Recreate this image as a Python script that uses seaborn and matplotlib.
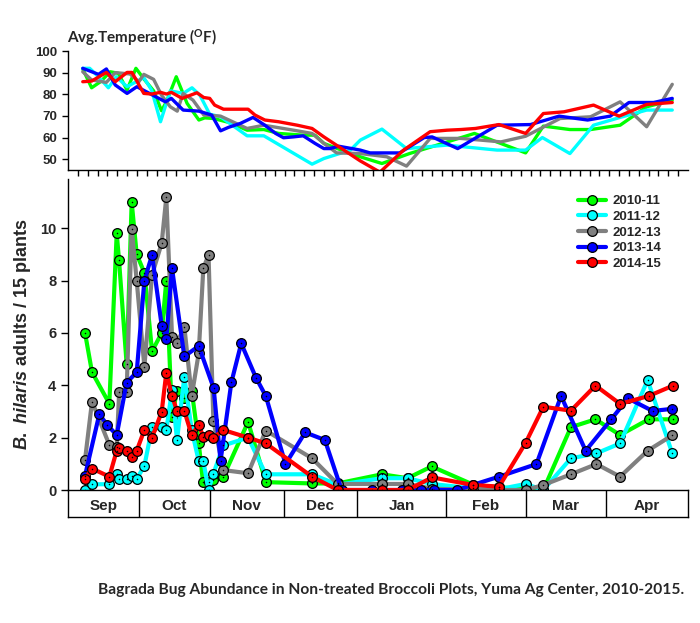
import numpy as np
import pandas as pd
import matplotlib
matplotlib.use("Agg")
import matplotlib.pyplot as plt
import seaborn as sns

sns.set_theme(style="white")
plt.rcParams['font.family'] = ['Liberation Sans', 'DejaVu Sans']
plt.rcParams['mathtext.fontset'] = 'custom'
plt.rcParams['mathtext.it'] = 'Liberation Sans:italic:bold'
plt.rcParams['mathtext.rm'] = 'Liberation Sans:bold'
plt.rcParams['mathtext.bf'] = 'Liberation Sans:bold'

seasons = ["2010-11", "2011-12", "2012-13", "2013-14", "2014-15"]
colors = ["#00ff00", "#00ffff", "#808080", "#0000ff", "#ff0000"]

months = ["Sep", "Oct", "Nov", "Dec", "Jan", "Feb", "Mar", "Apr"]
month_edges = [0, 7.2, 14.4, 21.9, 29.4, 38.4, 46.5, 54.7, 63.0]

# ---- bug counts (sample position, adults / 15 plants)
x_1011 = [1.73, 2.44, 4.2, 4.95, 5.18, 5.96, 6.47, 6.98, 7.76, 8.54, 9.52, 9.99, 10.57, 11.08, 11.82, 12.57, 13.28, 13.72, 14.28, 14.77, 15.78, 18.3, 20.1, 24.8, 27.4, 31.9, 34.5, 36.95, 41.2, 43.8, 48.3, 51.1, 53.6, 56.1, 59.0, 61.5]
y_1011 = [6.0, 4.5, 3.3, 9.8, 8.8, 4.8, 11.0, 9.0, 8.3, 5.3, 6.0, 8.0, 2.8, 3.8, 3.5, 3.8, 1.8, 0.3, 0.3, 0.4, 0.5, 2.6, 0.3, 0.25, 0.25, 0.6, 0.45, 0.9, 0.2, 0.1, 0.0, 2.4, 2.7, 2.1, 2.7, 2.7]

x_1112 = [1.73, 2.44, 4.2, 4.95, 5.2, 5.96, 6.47, 6.98, 7.76, 8.54, 9.52, 9.99, 10.57, 11.08, 11.82, 12.57, 13.28, 13.75, 14.28, 14.77, 15.78, 18.3, 20.1, 24.8, 27.4, 31.9, 34.5, 36.95, 41.2, 43.8, 46.5, 48.3, 51.1, 53.7, 56.1, 58.9, 61.4]
y_1112 = [0.0, 0.22, 0.22, 0.6, 0.42, 0.42, 0.54, 0.42, 0.92, 2.39, 2.39, 2.29, 3.82, 1.91, 4.33, 2.29, 1.11, 1.11, 0.0, 0.62, 1.7, 2.0, 0.6, 0.6, 0.2, 0.45, 0.45, 0.23, 0.06, 0.03, 0.23, 0.0, 1.21, 1.4, 1.78, 4.2, 1.4]

x_1213 = [1.73, 2.44, 4.2, 4.95, 5.2, 5.96, 6.47, 6.98, 7.76, 8.54, 9.52, 9.99, 10.57, 11.08, 11.82, 12.57, 13.28, 13.75, 14.28, 14.77, 15.8, 18.3, 20.1, 24.8, 27.4, 31.9, 34.5, 37.0, 41.2, 43.8, 46.5, 48.3, 51.1, 53.7, 56.1, 58.9, 61.4]
y_1213 = [1.15, 3.38, 1.72, 1.66, 3.76, 3.76, 9.97, 8.0, 4.71, 8.22, 9.43, 11.18, 5.86, 5.6, 6.24, 3.59, 5.22, 8.47, 8.98, 2.65, 0.76, 0.64, 2.27, 1.21, 0.23, 0.23, 0.23, 0.05, 0.0, 0.0, 0.0, 0.19, 0.6, 0.99, 0.51, 1.5, 2.09]

x_1314 = [1.73, 3.18, 4.0, 4.95, 5.96, 6.98, 7.76, 8.54, 9.52, 9.99, 10.57, 11.82, 13.28, 14.8, 15.5, 16.6, 17.6, 19.1, 20.1, 22.1, 24.1, 26.1, 27.8, 30.9, 33.9, 35.9, 37.2, 39.5, 43.8, 47.6, 50.1, 52.6, 55.2, 56.9, 59.4, 61.4]
y_1314 = [0.55, 2.89, 2.48, 2.1, 4.1, 4.5, 8.0, 8.98, 6.28, 5.77, 8.47, 5.1, 5.5, 3.89, 1.11, 4.11, 5.6, 4.29, 3.59, 0.99, 2.2, 1.91, 0.0, 0.0, 0.0, 0.0, 0.0, 0.0, 0.51, 0.99, 3.59, 1.5, 2.7, 3.5, 3.02, 3.1]

x_1415 = [1.73, 2.44, 4.2, 4.95, 5.2, 5.96, 6.47, 6.98, 7.76, 8.54, 9.52, 9.99, 10.57, 11.08, 11.82, 12.57, 13.28, 13.75, 14.28, 14.77, 15.8, 18.3, 20.1, 24.8, 27.4, 31.9, 34.5, 37.0, 41.2, 43.8, 46.5, 48.3, 51.1, 53.6, 56.1, 59.0, 61.5]
y_1415 = [0.42, 0.82, 0.51, 1.5, 1.62, 1.5, 1.25, 1.5, 2.29, 2.0, 2.99, 4.48, 3.59, 3.02, 3.02, 2.1, 2.48, 2.04, 2.1, 2.0, 2.29, 2.0, 1.78, 0.51, 0.0, 0.0, 0.0, 0.48, 0.19, 0.13, 1.8, 3.18, 3.03, 3.99, 3.29, 3.59, 3.99]

# ---- average temperature (sample position, deg F)
tx_1011 = [1.5, 2.4, 3.3, 4.3, 5.1, 6.0, 6.9, 7.8, 8.7, 9.5, 10.0, 11.0, 12.1, 13.3, 13.9, 14.8, 16.5, 18.2, 19.9, 21.4, 23.9, 25.1, 26.0, 28.7, 29.7, 31.9, 34.7, 37.5, 41.3, 46.5, 48.3, 51.0, 53.1, 56.1, 58.8, 61.4]
tt_1011 = [91.7, 83.0, 85.8, 90.4, 89.7, 82.0, 92.0, 86.6, 81.6, 72.4, 76.5, 88.1, 75.8, 68.1, 69.1, 68.8, 66.8, 63.4, 63.7, 61.9, 61.1, 61.1, 57.3, 52.6, 51.1, 48.0, 52.6, 56.5, 61.9, 52.9, 65.3, 63.7, 63.7, 65.7, 74.2, 77.3]

tx_1112 = [1.5, 2.2, 3.1, 4.1, 4.9, 6.0, 7.7, 8.5, 9.4, 10.4, 11.7, 12.6, 13.4, 14.4, 15.5, 18.2, 19.9, 24.8, 26.0, 28.7, 29.7, 31.9, 34.4, 38.5, 43.6, 46.5, 48.2, 51.0, 53.4, 56.1, 58.8, 61.4]
tt_1112 = [92.0, 92.0, 88.1, 83.0, 88.1, 83.5, 87.7, 81.9, 67.3, 81.6, 80.4, 83.0, 79.6, 70.8, 69.6, 60.8, 60.8, 47.7, 50.3, 54.2, 58.8, 63.9, 54.9, 56.5, 54.2, 54.2, 60.0, 52.6, 65.7, 69.3, 72.7, 72.7]

tx_1213 = [1.5, 2.4, 3.9, 4.8, 6.3, 7.2, 7.7, 8.7, 9.5, 10.4, 11.1, 11.7, 12.7, 13.8, 15.5, 18.2, 19.9, 23.3, 24.8, 26.0, 27.3, 29.7, 32.4, 34.4, 36.8, 39.9, 44.0, 46.5, 50.0, 53.1, 56.1, 58.8, 61.4]
tt_1213 = [90.4, 86.6, 85.5, 90.0, 89.4, 85.8, 89.2, 86.9, 79.6, 74.2, 72.2, 80.4, 77.3, 70.4, 69.9, 64.2, 65.7, 63.1, 61.9, 57.3, 52.9, 52.6, 51.1, 46.8, 59.6, 59.6, 58.0, 60.6, 68.8, 69.6, 76.5, 65.0, 84.6]

tx_1314 = [1.5, 3.1, 3.9, 4.8, 6.0, 7.0, 8.9, 9.9, 10.5, 11.7, 13.3, 14.6, 15.5, 16.3, 17.5, 18.8, 20.0, 21.1, 21.9, 22.9, 23.9, 25.1, 26.0, 26.6, 27.5, 29.7, 30.7, 33.7, 36.2, 37.0, 39.6, 43.6, 47.0, 49.9, 52.8, 55.1, 57.0, 59.5, 61.4]
tt_1314 = [92.0, 89.2, 91.7, 84.3, 80.4, 83.5, 78.9, 76.5, 78.1, 72.7, 72.2, 70.4, 63.1, 64.7, 66.5, 69.3, 65.7, 61.9, 59.9, 60.3, 60.8, 57.3, 54.9, 54.9, 56.0, 54.2, 52.9, 52.9, 60.0, 60.3, 54.9, 65.7, 66.0, 69.9, 68.1, 69.9, 76.2, 76.2, 78.1]

tx_1415 = [1.5, 2.4, 3.9, 4.8, 6.0, 6.5, 7.7, 8.5, 9.4, 10.0, 10.5, 11.6, 13.1, 13.8, 14.4, 14.9, 15.8, 18.3, 19.0, 20.0, 21.4, 23.3, 24.8, 26.0, 29.7, 31.7, 34.1, 36.8, 38.5, 39.9, 41.4, 43.8, 46.5, 48.3, 50.4, 53.4, 56.0, 58.8, 61.4]
tt_1415 = [85.8, 86.1, 90.1, 85.8, 90.1, 90.1, 80.4, 80.1, 80.9, 80.1, 80.9, 78.1, 80.7, 78.5, 78.1, 75.0, 73.1, 73.1, 70.4, 68.1, 67.3, 65.7, 64.2, 60.3, 49.2, 44.0, 54.2, 62.7, 63.4, 63.7, 64.2, 66.0, 61.9, 71.1, 71.9, 75.0, 69.9, 75.3, 76.2]

bug_x = [x_1011, x_1112, x_1213, x_1314, x_1415]
bug_y = [y_1011, y_1112, y_1213, y_1314, y_1415]
tmp_x = [tx_1011, tx_1112, tx_1213, tx_1314, tx_1415]
tmp_y = [tt_1011, tt_1112, tt_1213, tt_1314, tt_1415]

bugs = pd.concat([pd.DataFrame({"pos": bx, "count": by, "season": s})
                  for bx, by, s in zip(bug_x, bug_y, seasons)], ignore_index=True)
temps = pd.concat([pd.DataFrame({"pos": tx, "temp": ty, "season": s})
                   for tx, ty, s in zip(tmp_x, tmp_y, seasons)], ignore_index=True)
palette = dict(zip(seasons, colors))

W, H = 700, 623
fig = plt.figure(figsize=(W / 100, H / 100), dpi=100)
fig.patch.set_facecolor("white")

def rect(l, t, r, b):
    return [l / W, 1 - b / H, (r - l) / W, (b - t) / H]

XMAX = 63.0

# ---------------- temperature panel
axt = fig.add_axes(rect(68, 51, 688, 170))
sns.lineplot(data=temps, x="pos", y="temp", hue="season", palette=palette,
             hue_order=seasons, sort=False, estimator=None, linewidth=2.4,
             legend=False, ax=axt)
axt.set_xlim(0, XMAX)
axt.set_ylim(45, 100)
axt.set_yticks([50, 60, 70, 80, 90, 100])
axt.set_xticks(np.arange(1, 63, 1))
axt.set_xticklabels([])
axt.set_xlabel("")
axt.set_ylabel("")
for s in ["top", "right"]:
    axt.spines[s].set_visible(False)
for s in ["left", "bottom"]:
    axt.spines[s].set_color("black")
    axt.spines[s].set_linewidth(1.0)
axt.tick_params(axis="both", direction="out", length=4, width=1, color="black",
                bottom=True, left=True, labelsize=9.5)
for lab in axt.get_yticklabels():
    lab.set_fontweight("bold")
axt.set_facecolor("white")
fig.text(67 / W, 1 - 38 / H, r"Avg.Temperature ($^{\mathregular{O}}$F)",
         fontsize=11, fontweight="bold", family=["Lato", "DejaVu Sans"],
         ha="left", va="center")

# ---------------- bug panel
axb = fig.add_axes(rect(68, 179, 688, 490))
sns.lineplot(data=bugs, x="pos", y="count", hue="season", palette=palette,
             hue_order=seasons, sort=False, estimator=None, linewidth=3.0,
             marker="o", markersize=7, markeredgecolor="black",
             markeredgewidth=0.9, ax=axb)
for s in seasons:
    sub = bugs[bugs["season"] == s]
    sns.scatterplot(x=sub["pos"], y=sub["count"], color="black", s=1.2,
                    linewidth=0, ax=axb, legend=False, zorder=5)
for ln in axb.lines:
    ln.set_clip_on(False)
for c in axb.collections:
    c.set_clip_on(False)
axb.set_xlim(0, XMAX)
axb.set_ylim(0, 11.88)
axb.set_yticks([0, 2, 4, 6, 8, 10])
axb.set_xticks([])
axb.set_xlabel("")
axb.set_ylabel(r"$\mathit{B.\ hilaris}$ adults / 15 plants", fontsize=13,
               fontweight="bold", labelpad=5)
for s in ["top", "right", "bottom"]:
    axb.spines[s].set_visible(False)
axb.spines["left"].set_color("black")
axb.spines["left"].set_linewidth(1.0)
axb.tick_params(axis="y", direction="out", length=5, width=1, color="black",
                left=True, labelsize=10.5)
for lab in axb.get_yticklabels():
    lab.set_fontweight("bold")
axb.set_facecolor("none")

handles, labels = axb.get_legend_handles_labels()
leg = axb.legend(handles[:5], labels[:5], loc="upper left",
                 bbox_to_anchor=((578 - 68) / 620, (490 - 195) / 311),
                 frameon=False, fontsize=9.5, handlelength=2.1,
                 handletextpad=0.5, labelspacing=0.26, borderpad=0,
                 borderaxespad=0)
for t in leg.get_texts():
    t.set_fontweight("bold")

# ---------------- month table
axm = fig.add_axes(rect(68, 490, 688, 517))
axm.set_xlim(0, XMAX)
axm.set_ylim(0, 1)
axm.set_xticks([])
axm.set_yticks([])
for s in axm.spines.values():
    s.set_visible(True)
    s.set_color("black")
    s.set_linewidth(1.0)
for e in month_edges[1:-1]:
    axm.axvline(e, color="black", linewidth=1.0)
for i, m in enumerate(months):
    axm.text((month_edges[i] + month_edges[i + 1]) / 2, 0.42, m, ha="center",
             va="center", fontsize=11, fontweight="bold")
axm.set_facecolor("white")

fig.text(391.5 / W, 1 - 590 / H,
         "Bagrada Bug Abundance in Non-treated Broccoli Plots, Yuma Ag Center, 2010-2015.",
         ha="center", va="center", fontsize=11.2, fontweight="bold",
         family=["Lato", "DejaVu Sans"])

fig.savefig("out.png", dpi=100, facecolor="white")
